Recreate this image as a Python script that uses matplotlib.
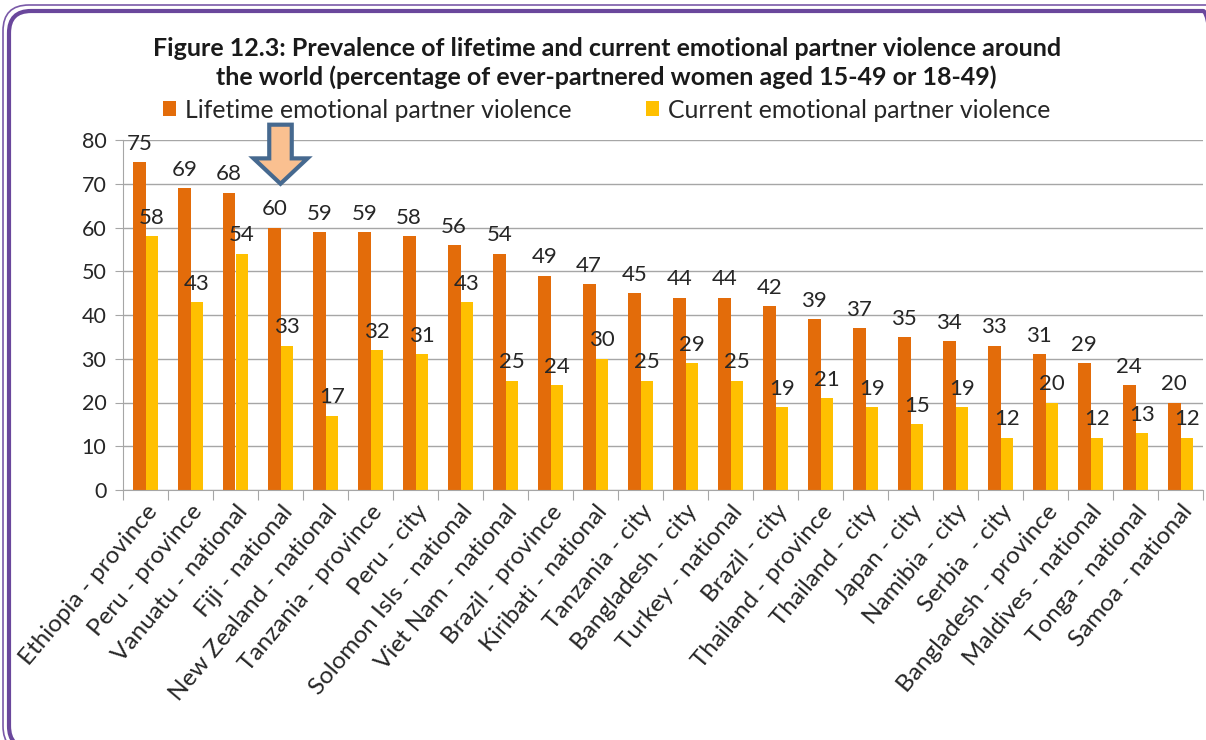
import matplotlib
matplotlib.use("Agg")
import matplotlib.pyplot as plt
import numpy as np
from matplotlib.patches import FancyBboxPatch, Polygon
from matplotlib.transforms import IdentityTransform

plt.rcParams['font.family'] = ['Lato', 'DejaVu Sans']

# datos por sitio
sitios = ['Ethiopia - province', 'Peru - province', 'Vanuatu - national', 'Fiji - national',
          'New Zealand - national', 'Tanzania - province', 'Peru - city', 'Solomon Isls - national',
          'Viet Nam - national', 'Brazil - province', 'Kiribati - national', 'Tanzania - city',
          'Bangladesh - city', 'Turkey - national', 'Brazil - city', 'Thailand - province',
          'Thailand - city', 'Japan - city', 'Namibia - city', 'Serbia  - city',
          'Bangladesh - province', 'Maldives - national', 'Tonga - national', 'Samoa - national']
de_por_vida = [75, 69, 68, 60, 59, 59, 58, 56, 54, 49, 47, 45, 44, 44, 42, 39, 37, 35, 34, 33, 31, 29, 24, 20]
actual = [58, 43, 54, 33, 17, 32, 31, 43, 25, 24, 30, 25, 29, 25, 19, 21, 19, 15, 19, 12, 20, 12, 13, 12]
marcado = 'Fiji - national'

naranja = '#E36C0A'
amarillo = '#FFC000'
gris = '#A6A6A6'
texto = '#262626'

fig = plt.figure(figsize=(12.06, 7.40), dpi=100)
ax = fig.add_axes([123/1206, 1 - 490/740, (1203-123)/1206, 350/740])

x = np.arange(len(sitios))
w = 0.28
b1 = ax.bar(x - w/2, de_por_vida, w, color=naranja, label='Lifetime emotional partner violence')
b2 = ax.bar(x + w/2, actual, w, color=amarillo, label='Current emotional partner violence')

for barras, vals in ((b1, de_por_vida), (b2, actual)):
    for r, v in zip(barras, vals):
        ax.annotate(str(v), (r.get_x() + r.get_width()/2, v), xytext=(0, 6),
                    textcoords='offset points', ha='center', va='bottom',
                    fontsize=16, color=texto, annotation_clip=False)

ax.set_xlim(-0.5, len(sitios) - 0.5)
ax.set_ylim(0, 80)
ax.set_yticks(range(0, 81, 10))
ax.yaxis.grid(True, color=gris, lw=1)
ax.set_axisbelow(True)
for s in ['top', 'right']:
    ax.spines[s].set_visible(False)
for s in ['left', 'bottom']:
    ax.spines[s].set_color(gris)
ax.tick_params(axis='y', labelsize=15.5, colors=gris, labelcolor=texto, length=6, pad=6)

# marcas entre categorias, etiquetas al centro
ax.set_xticks(np.arange(-0.5, len(sitios)), minor=False)
ax.set_xticklabels([])
ax.set_xticks(x, minor=True)
ax.set_xticklabels(sitios, minor=True, rotation=50, ha='right', rotation_mode='anchor',
                   fontsize=17.5, color=texto)
ax.tick_params(axis='x', which='major', length=7, colors=gris)
ax.tick_params(axis='x', which='minor', length=0, pad=8)

# flecha sobre Fiji
i = sitios.index(marcado)
y0 = 70
flecha = Polygon([(i - 0.25, y0 + 13.5), (i + 0.25, y0 + 13.5), (i + 0.25, y0 + 5.8),
                  (i + 0.6, y0 + 5.8), (i, y0), (i - 0.6, y0 + 5.8), (i - 0.25, y0 + 5.8)],
                 closed=True, facecolor='#FAC090', edgecolor='#46698F', lw=3,
                 clip_on=False, zorder=5, joinstyle='miter')
ax.add_patch(flecha)

fig.text(0.503, 1 - 48/740, 'Figure 12.3: Prevalence of lifetime and current emotional partner violence around',
         ha='center', va='center', fontsize=18, fontweight='bold', color='#1a1a1a')
fig.text(0.503, 1 - 77/740, 'the world (percentage of ever-partnered women aged 15-49 or 18-49)',
         ha='center', va='center', fontsize=18, fontweight='bold', color='#1a1a1a')

fig.legend(loc='center', bbox_to_anchor=(0.503, 1 - 110/740), ncol=2, frameon=False,
           fontsize=17.8, handlelength=0.55, handleheight=0.55, handletextpad=0.35,
           columnspacing=3.0, labelcolor=texto)

# marco morado redondeado (en pixeles)
fig.patches.append(FancyBboxPatch((3, -12), 1230, 747,
                                  boxstyle='round,pad=0,rounding_size=26',
                                  transform=IdentityTransform(), fill=False,
                                  edgecolor='#7A5AA8', lw=1.2, figure=fig))
fig.patches.append(FancyBboxPatch((9, -8), 1216, 737,
                                  boxstyle='round,pad=0,rounding_size=22',
                                  transform=IdentityTransform(), fill=False,
                                  edgecolor='#6A479C', lw=3, figure=fig))

fig.savefig('out.png', dpi=100)
